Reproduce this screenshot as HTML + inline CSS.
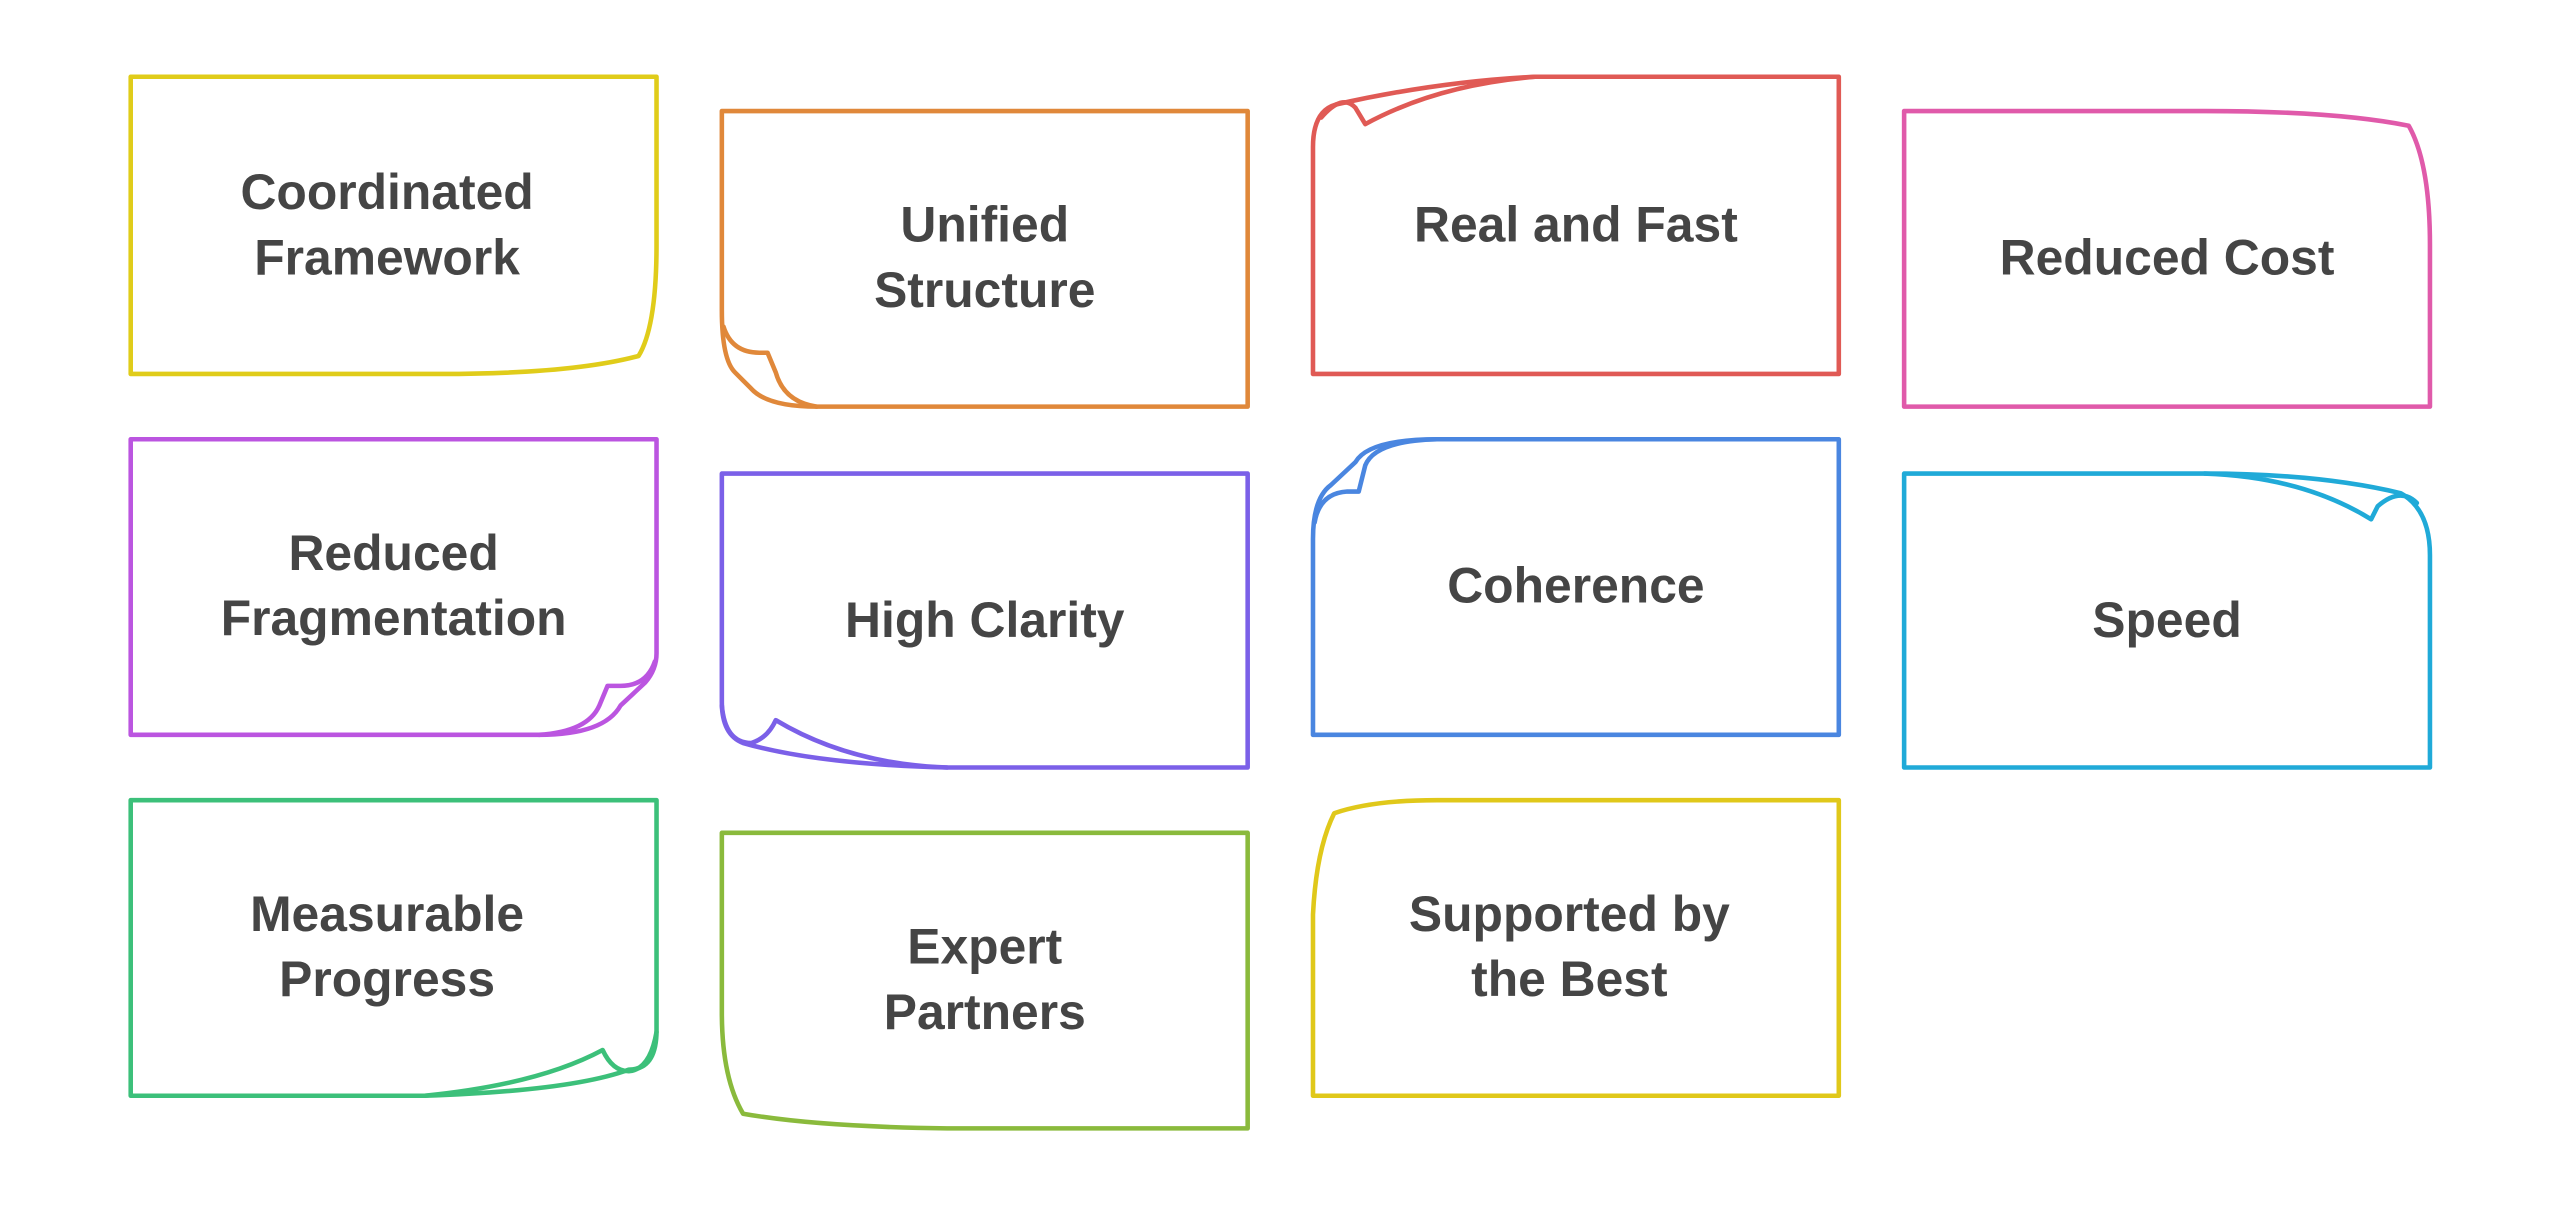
<!DOCTYPE html>
<html><head><meta charset="utf-8"><style>
html,body{margin:0;padding:0;background:#fff;width:2560px;height:1212px;overflow:hidden}
svg{display:block}
text{font-family:"Liberation Sans",sans-serif;font-weight:bold;font-size:30.5px;fill:#454545;text-anchor:middle}
path{fill:none;stroke-width:2.8;stroke-linejoin:round;stroke-linecap:round}
</style></head><body>
<svg width="2560" height="1212" viewBox="0 0 1567.6 742.2">
<!-- Row 1 -->
<path stroke="#e0cc1a" d="M80,47 H402 V150 Q402,200 391,218 Q350,229 270,229 H80 Z"/>
<text x="237" y="128">Coordinated</text><text x="237" y="168">Framework</text>

<path stroke="#e0883a" d="M442,68 H764 V249 H500 Q470,249 460,238 L450,228 Q442,220 442,190 Z"/>
<path stroke="#e0883a" d="M443,200 Q448,216 465,216 H470 L475,228 Q480,246 500,249"/>
<text x="603" y="148">Unified</text><text x="603" y="188">Structure</text>

<path stroke="#e05a55" d="M940,47 H1126 V229 H804 V90 Q804,68 818,64 Q880,50 940,47 Z"/>
<path stroke="#e05a55" d="M809,72 Q822,57 830,66 L836,76 Q880,52 940,47"/>
<text x="965" y="148">Real and Fast</text>

<path stroke="#e05aaa" d="M1166,68 H1350 Q1430,68 1475,77 Q1488,100 1488,150 V249 H1166 Z"/>
<text x="1327" y="168">Reduced Cost</text>

<!-- Row 2 -->
<path stroke="#bb55e0" d="M80,269 H402 V400 Q402,410 395,418 L380,432 Q370,450 330,450 H80 Z"/>
<path stroke="#bb55e0" d="M401,405 Q396,420 380,420 H372 L367,432 Q360,448 330,450"/>
<text x="241" y="349">Reduced</text><text x="241" y="389">Fragmentation</text>

<path stroke="#7b60e8" d="M442,290 H764 V470 H580 Q500,468 455,455 Q442,450 442,430 Z"/>
<path stroke="#7b60e8" d="M442,432 Q444,455 460,455 Q470,452 475,441 Q520,468 580,470"/>
<text x="603" y="390">High Clarity</text>

<path stroke="#4a86e0" d="M880,269 H1126 V450 H804 V330 Q804,305 815,297 L830,283 Q838,269 880,269 Z"/>
<path stroke="#4a86e0" d="M805,320 Q808,302 825,301 H832 L836,285 Q842,270 880,269"/>
<text x="965" y="369">Coherence</text>

<path stroke="#20aad8" d="M1166,290 H1350 Q1420,290 1470,302 Q1488,312 1488,340 V470 H1166 Z"/>
<path stroke="#20aad8" d="M1350,290 Q1410,292 1452,318 L1456,310 Q1470,298 1480,308"/>
<text x="1327" y="390">Speed</text>

<!-- Row 3 -->
<path stroke="#3cc07a" d="M80,490 H402 V631 Q402,655 385,655 Q350,668 260,671 H80 Z"/>
<path stroke="#3cc07a" d="M402,632 Q398,655 385,656 Q375,656 369,643 Q330,664 260,671"/>
<text x="237" y="570">Measurable</text><text x="237" y="610">Progress</text>

<path stroke="#8aba3c" d="M442,510 H764 V691 H580 Q500,690 455,682 Q442,660 442,620 Z"/>
<text x="603" y="590">Expert</text><text x="603" y="630">Partners</text>

<path stroke="#e0c81a" d="M880,490 H1126 V671 H804 V560 Q806,520 817,498 Q840,490 880,490 Z"/>
<text x="961" y="570">Supported by</text><text x="961" y="610">the Best</text>
</svg>
</body></html>
